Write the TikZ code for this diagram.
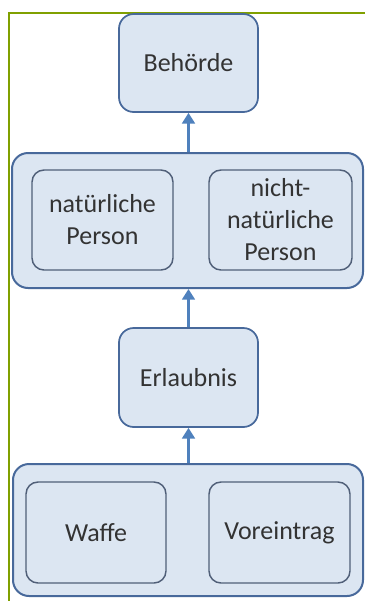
\documentclass[tikz,border=0pt]{standalone}
\usepackage{fontspec}
\setmainfont{Carlito}
\definecolor{boxfill}{RGB}{220,230,242}
\definecolor{boxline}{RGB}{72,105,155}
\definecolor{innerline}{RGB}{80,95,120}
\definecolor{arrowblue}{RGB}{79,129,189}
\definecolor{frame}{RGB}{128,160,0}
\usetikzlibrary{arrows.meta, positioning}

\begin{document}
\begin{tikzpicture}[x=0.75pt,y=-0.75pt,
        font=\fontsize{19.5}{24}\selectfont,
        box/.style={rectangle,rounded corners=11pt,draw=boxline,line width=1.3pt,
                    fill=boxfill,text=black!80,align=center,inner sep=0pt},
        group/.style={box,rounded corners=12pt,line width=1.5pt},
        inner/.style={box,draw=innerline,line width=1.1pt,rounded corners=9pt},
        link/.style={-{Triangle[length=8pt,width=9.5pt]},line width=2pt,arrowblue}]
      \useasboundingbox (0,0) rectangle (365,601);
      \draw[frame,line width=2pt] (9,601) -- (9,13) -- (365,13);
      \node[box,minimum width=104.25pt,minimum height=73.5pt] (auth) at (188.5,63) {Behörde};
      \node[group,minimum width=263.25pt,minimum height=101.25pt] (persons) at (187.5,220.5) {};
      \node[inner,minimum width=105.75pt,minimum height=75pt] (nat) at (102.5,220) {natürliche\\Person};
      \node[inner,minimum width=107.25pt,minimum height=75pt] (nonnat) at (280.5,220) {nicht-\\natürliche\\Person};
      \node[box,minimum width=104.25pt,minimum height=74.25pt] (perm) at (188.5,377.5) {Erlaubnis};
      \node[group,minimum width=262.5pt,minimum height=99pt] (items) at (188,530) {};
      \node[inner,minimum width=105pt,minimum height=75.75pt] (weapon) at (96,532.5) {Waffe};
      \node[inner,minimum width=105.75pt,minimum height=75.75pt] (record) at (279.5,532.5) {Voreintrag};
      \draw[link] (persons.north -| auth.south) -- (auth.south);
      \draw[link] (perm.north) -- (perm.north |- persons.south);
      \draw[link] (items.north -| perm.south) -- (perm.south);
    \end{tikzpicture}
\end{document}
